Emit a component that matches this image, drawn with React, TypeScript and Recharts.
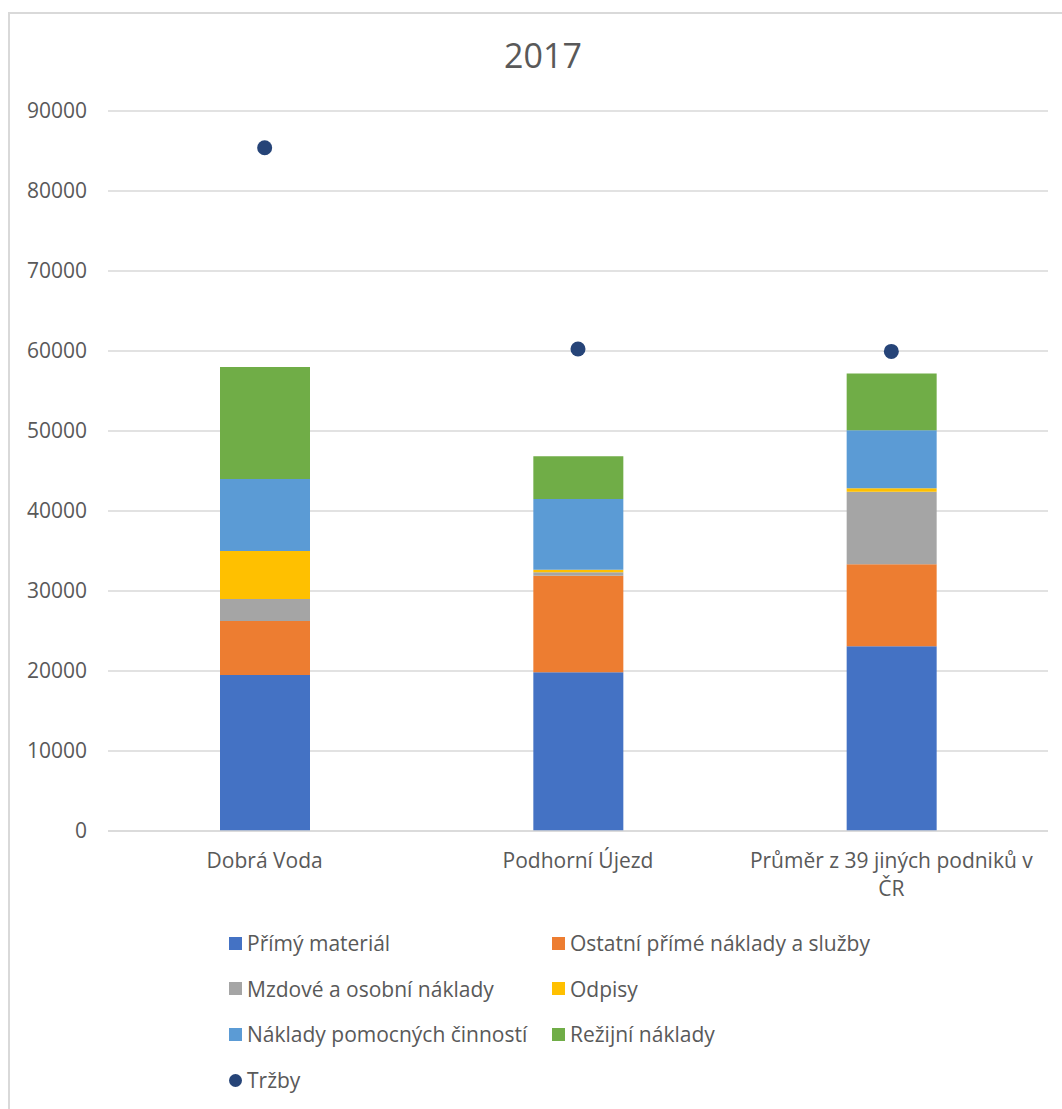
import React from "react";
import { ComposedChart, Bar, Line, XAxis, YAxis, CartesianGrid } from "recharts";

const categories = ["Dobrá Voda", "Podhorní Újezd", "Průměr z 39 jiných podniků v ČR"];
const primyMaterial = [19500, 19850, 23100];
const ostatniPrime = [6750, 12050, 10250];
const mzdove = [2750, 450, 9050];
const odpisy = [6000, 300, 450];
const pomocne = [9000, 8850, 7250];
const rezijni = [14000, 5350, 7100];
const trzby = [85400, 60250, 59950];
const yTicks = [0, 10000, 20000, 30000, 40000, 50000, 60000, 70000, 80000, 90000];

const seriesNames = [
  "Přímý materiál",
  "Ostatní přímé náklady a služby",
  "Mzdové a osobní náklady",
  "Odpisy",
  "Náklady pomocných činností",
  "Režijní náklady",
  "Tržby",
];
const colors = ["#4472C4", "#ED7D31", "#A5A5A5", "#FFC000", "#5B9BD5", "#70AD47", "#264478"];
const keys = ["s0", "s1", "s2", "s3", "s4", "s5", "trzby"];

const data = categories.map((c, i) => ({
  name: c,
  s0: primyMaterial[i],
  s1: ostatniPrime[i],
  s2: mzdove[i],
  s3: odpisy[i],
  s4: pomocne[i],
  s5: rezijni[i],
  trzby: trzby[i],
}));

const FONT = "'Open Sans', sans-serif";
const TXT = "#595959";
const FS = 21;

let ctx: CanvasRenderingContext2D | null = null;
function measure(s: string): number {
  if (!ctx) {
    const c = document.createElement("canvas");
    ctx = c.getContext("2d");
  }
  if (!ctx) return s.length * FS * 0.55;
  ctx.font = `${FS}px ${FONT}`;
  return ctx.measureText(s).width;
}

function wrap(text: string, maxW: number): string[] {
  const words = text.split(" ");
  const lines: string[] = [];
  let cur = "";
  for (const w of words) {
    const t = cur ? cur + " " + w : w;
    if (cur && measure(t) > maxW) {
      lines.push(cur);
      cur = w;
    } else cur = t;
  }
  if (cur) lines.push(cur);
  return lines;
}

const XTick = (props: any) => {
  const { x, y, payload } = props;
  const lines = wrap(String(payload.value), 292);
  return (
    <text
      x={x}
      y={y}
      textAnchor="middle"
      fill={TXT}
      fontSize={FS}
      fontFamily={FONT}
    >
      {lines.map((l, i) => (
        <tspan key={i} x={x} dy={i === 0 ? "0.71em" : 28}>
          {l}
        </tspan>
      ))}
    </text>
  );
};

export default function App() {
  const legendRows = [
    [0, 1],
    [2, 3],
    [4, 5],
    [6],
  ];
  return (
    <div
      style={{
        position: "absolute",
        left: 0,
        top: 0,
        width: 1062,
        height: 1109,
        background: "#fff",
        overflow: "hidden",
        fontFamily: FONT,
      }}
    >
      <div
        style={{
          position: "absolute",
          left: 8,
          top: 12,
          width: 1200,
          height: 1200,
          borderLeft: "2px solid #d9d9d9",
          borderTop: "2px solid #d9d9d9",
        }}
      />
      <div
        style={{
          position: "absolute",
          left: 0,
          width: 1086,
          top: 32,
          textAlign: "center",
          fontSize: 34,
          lineHeight: "46px",
          color: TXT,
        }}
      >
        2017
      </div>
      <div style={{ position: "absolute", left: 0, top: 0 }}>
        <ComposedChart
          width={1062}
          height={920}
          data={data}
          margin={{ top: 111, right: 14, left: 0, bottom: 0 }}
          barSize={90}
        >
          <CartesianGrid vertical={false} stroke="#d9d9d9" strokeWidth={1.5} />
          <XAxis
            dataKey="name"
            tick={<XTick />}
            tickLine={false}
            axisLine={{ stroke: "#d9d9d9", strokeWidth: 1.5 }}
            interval={0}
            height={89}
            tickMargin={16}
          />
          <YAxis
            width={108}
            domain={[0, 90000]}
            ticks={yTicks}
            tickLine={false}
            axisLine={false}
            tickSize={0}
            tickMargin={21}
            tick={{ fill: TXT, fontSize: FS, fontFamily: FONT }}
          />
          {keys.slice(0, 6).map((k, i) => (
            <Bar
              key={k}
              dataKey={k}
              stackId="a"
              fill={colors[i]}
              name={seriesNames[i]}
              isAnimationActive={false}
            />
          ))}
          <Line
            dataKey="trzby"
            name="Tržby"
            stroke="none"
            strokeWidth={0}
            dot={{ r: 7.5, fill: colors[6], stroke: colors[6], strokeWidth: 0 }}
            activeDot={false}
            isAnimationActive={false}
          />
        </ComposedChart>
      </div>
      {legendRows.map((row, ri) =>
        row.map((si, ci) => (
          <div
            key={si}
            style={{
              position: "absolute",
              left: ci === 0 ? 229 : 552,
              top: 943 + ri * 45.7 - 15,
              height: 30,
              display: "flex",
              alignItems: "center",
              fontSize: FS,
              color: TXT,
              whiteSpace: "nowrap",
            }}
          >
            <span
              style={{
                display: "inline-block",
                width: 13,
                height: 13,
                borderRadius: si === 6 ? "50%" : 0,
                background: colors[si],
                marginRight: 5,
              }}
            />
            {seriesNames[si]}
          </div>
        ))
      )}
    </div>
  );
}
